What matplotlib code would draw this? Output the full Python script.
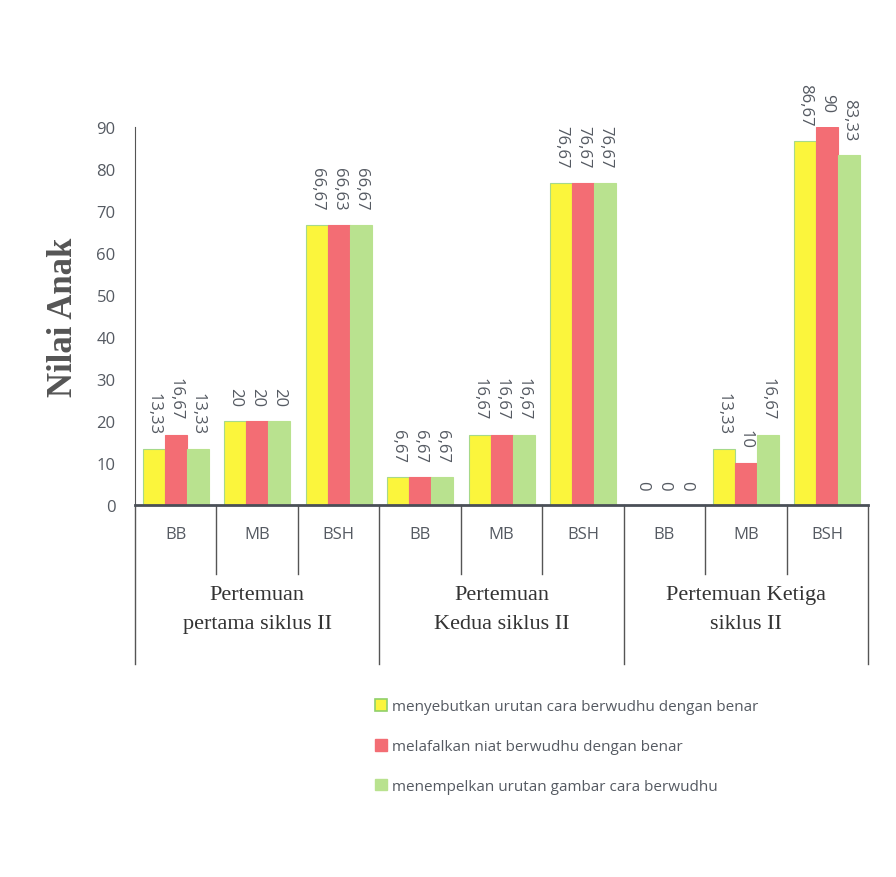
import numpy as np
import matplotlib.pyplot as plt
from matplotlib.patches import Patch
import matplotlib.transforms as mtransforms

levels = ["BB", "MB", "BSH"]
meetings = ["Pertemuan\npertama siklus II", "Pertemuan\nKedua siklus II", "Pertemuan Ketiga\nsiklus II"]

# one value per (meeting, level), in order BB, MB, BSH for each meeting
menyebutkan = [13.33, 20, 66.67, 6.67, 16.67, 76.67, 0, 13.33, 86.67]
melafalkan = [16.67, 20, 66.63, 6.67, 16.67, 76.67, 0, 10, 90]
menempelkan = [13.33, 20, 66.67, 6.67, 16.67, 76.67, 0, 16.67, 83.33]

labels_menyebutkan = ["13,33", "20", "66,67", "6,67", "16,67", "76,67", "0", "13,33", "86,67"]
labels_melafalkan = ["16,67", "20", "66,63", "6,67", "16,67", "76,67", "0", "10", "90"]
labels_menempelkan = ["13,33", "20", "66,67", "6,67", "16,67", "76,67", "0", "16,67", "83,33"]

series_names = [
    "menyebutkan urutan cara berwudhu dengan benar",
    "melafalkan niat berwudhu dengan benar",
    "menempelkan urutan gambar cara berwudhu",
]
colors = ["#fbf53c", "#f36d74", "#b9e28f"]
edges = ["#a6d98a", "#f36d74", "#b9e28f"]

fig = plt.figure(figsize=(8.96, 8.78), dpi=100)
ax = fig.add_axes([0.1507, 0.4237, 0.8181, 0.4305])

x = np.arange(len(menyebutkan))
w = 0.27
txt_gray = "#555a62"

for i, (vals, labs) in enumerate([(menyebutkan, labels_menyebutkan),
                                  (melafalkan, labels_melafalkan),
                                  (menempelkan, labels_menempelkan)]):
    xs = x + (i - 1) * w
    ax.bar(xs, vals, width=w, color=colors[i], edgecolor=edges[i], linewidth=0.8)
    for xi, v, lab in zip(xs, vals, labs):
        ax.text(xi, v + 3.6, lab, rotation=-90, ha="center", va="bottom",
                fontsize=12, color=txt_gray, family="Open Sans")

ax.set_xlim(-0.5, len(x) - 0.5)
ax.set_ylim(0, 90)
ax.set_yticks(np.arange(0, 91, 10))
ax.tick_params(axis="y", length=0, pad=14, labelsize=12, labelcolor=txt_gray)
for lab in ax.get_yticklabels():
    lab.set_family("Open Sans")
ax.set_xticks([])

for s in ["top", "right"]:
    ax.spines[s].set_visible(False)
ax.spines["left"].set_color("#555555")
ax.spines["bottom"].set_color("#4a4f57")
ax.spines["bottom"].set_linewidth(2)

ax.set_ylabel("Nilai Anak", family="Liberation Serif", fontweight="bold",
              fontsize=25, color="#555555", labelpad=12)

# two-level category axis below the bars
trans = mtransforms.blended_transform_factory(ax.transData, ax.transAxes)
line_kw = dict(color="#555555", lw=1, transform=trans, clip_on=False)
for k in range(len(x)):
    ax.text(k, -0.077, levels[k % 3], ha="center", va="center", transform=trans,
            fontsize=12, color=txt_gray, family="Open Sans")
    if k % 3 != 0:
        ax.plot([k - 0.5, k - 0.5], [0, -0.183], **line_kw)
for g in range(len(meetings) + 1):
    ax.plot([g * 3 - 0.5, g * 3 - 0.5], [0, -0.42], **line_kw)
for g, name in enumerate(meetings):
    ax.text(g * 3 + 1, -0.275, name, ha="center", va="center", transform=trans,
            fontsize=16, color="#333333", family="Liberation Serif", linespacing=1.75)

handles = [Patch(facecolor=colors[0], edgecolor="#8fd06a", linewidth=1.2),
           Patch(facecolor=colors[1], edgecolor=colors[1]),
           Patch(facecolor=colors[2], edgecolor=colors[2])]
leg = fig.legend(handles, series_names, loc="upper left", bbox_to_anchor=(0.403, 0.218),
                 frameon=False, labelspacing=1.6, handlelength=0.8,
                 handleheight=0.8, handletextpad=0.3, prop={"family": "Open Sans", "size": 11})
for t in leg.get_texts():
    t.set_color(txt_gray)

fig.savefig("out.png", dpi=100)
